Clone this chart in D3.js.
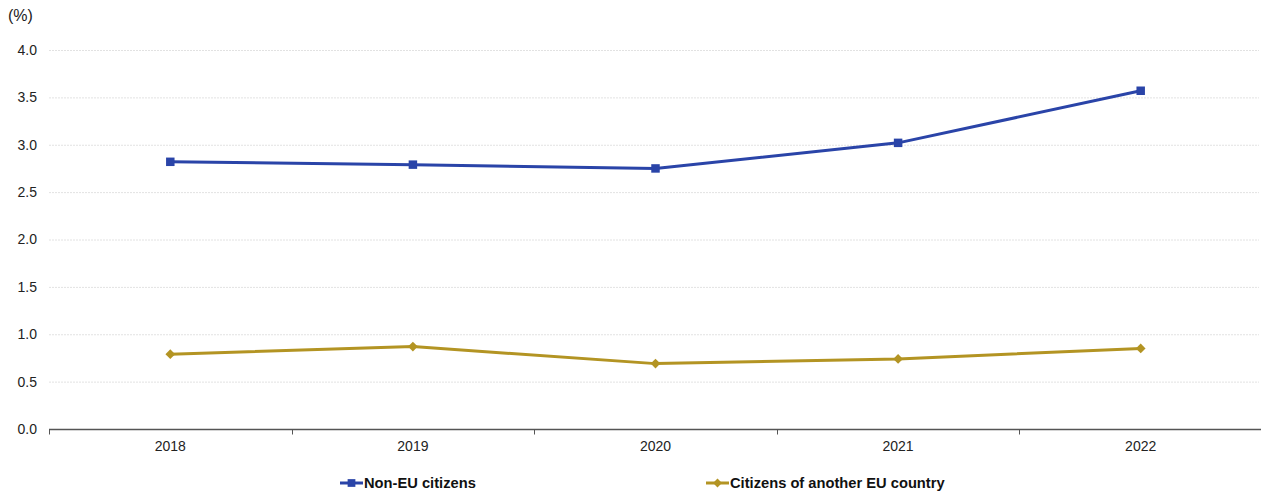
<!DOCTYPE html>
<html>
<head>
<meta charset="utf-8">
<script src="https://cdn.jsdelivr.net/npm/d3@7"></script>
<style>
  html, body { margin: 0; padding: 0; background: #fff; }
  svg { display: block; font-family: "Liberation Sans", Arial, sans-serif; }
</style>
</head>
<body>
<svg id="chart" width="1261" height="493"></svg>
<script>
// Share of population by citizenship, 2018-2022 (%)
const years = ["2018", "2019", "2020", "2021", "2022"];
const nonEU = [2.82, 2.79, 2.75, 3.02, 3.57];
const otherEU = [0.79, 0.87, 0.69, 0.74, 0.85];
const seriesNames = ["Non-EU citizens", "Citizens of another EU country"];
const yTicks = [0, 0.5, 1, 1.5, 2, 2.5, 3, 3.5, 4];

const colors = ["#2A44A8", "#B39423"];
const svg = d3.select("#chart");
const margin = { left: 49 };

const x = d3.scaleBand().domain(years).range([margin.left, 1262]).paddingInner(0).paddingOuter(0);
const y = d3.scaleLinear().domain([0, 4]).range([429, 50]);

// gridlines
svg.append("g")
  .selectAll("line")
  .data(yTicks.filter(d => d > 0))
  .join("line")
  .attr("x1", margin.left).attr("x2", 1259)
  .attr("y1", d => y(d) + 0.5).attr("y2", d => y(d) + 0.5)
  .attr("stroke", "#e2e2e2").attr("stroke-width", 1)
  .attr("stroke-dasharray", "2,1");

// y axis labels
const yAxis = d3.axisLeft(y).tickValues(yTicks).tickFormat(d3.format(".1f")).tickSize(0).tickPadding(12);
const gy = svg.append("g").attr("transform", `translate(${margin.left},0)`).call(yAxis);
gy.select(".domain").remove();
gy.selectAll("text").attr("font-size", 14).attr("fill", "#222").attr("font-family", "Liberation Sans, Arial, sans-serif");

// x axis with tick marks at category boundaries
const gx = svg.append("g").attr("transform", "translate(0,429.5)");
gx.append("line").attr("x1", margin.left).attr("x2", 1261).attr("stroke", "#555").attr("stroke-width", 1.5);
const bounds = years.map(d => x(d)).concat([x(years[years.length - 1]) + x.bandwidth()]);
gx.selectAll("line.tick").data(bounds).join("line")
  .attr("class", "tick")
  .attr("x1", d => Math.round(d) + 0.5).attr("x2", d => Math.round(d) + 0.5)
  .attr("y1", 0).attr("y2", 5)
  .attr("stroke", "#555").attr("stroke-width", 1);
gx.selectAll("text").data(years).join("text")
  .attr("x", d => x(d) + x.bandwidth() / 2)
  .attr("y", 21)
  .attr("text-anchor", "middle")
  .attr("font-size", 14).attr("fill", "#222")
  .text(d => d);

// unit label
svg.append("text").attr("x", 8).attr("y", 21).attr("font-size", 16).attr("fill", "#222").text("(%)");

const cx = d => x(d) + x.bandwidth() / 2;
const line = d3.line().x((d, i) => cx(years[i])).y(d => y(d));

function drawSeries(values, color, shape) {
  svg.append("path").datum(values)
    .attr("d", line).attr("fill", "none")
    .attr("stroke", color).attr("stroke-width", 3).attr("stroke-linejoin", "round");
  svg.append("g").selectAll("path").data(values).join("path")
    .attr("transform", (d, i) => `translate(${cx(years[i])},${y(d)})`)
    .attr("d", d3.symbol().type(shape).size(shape === d3.symbolSquare ? 72 : 60))
    .attr("fill", color);
}
drawSeries(nonEU, colors[0], d3.symbolSquare);
drawSeries(otherEU, colors[1], d3.symbolDiamond2);

// legend
const legendItems = [
  { name: seriesNames[0], color: colors[0], shape: d3.symbolSquare, x: 340 },
  { name: seriesNames[1], color: colors[1], shape: d3.symbolDiamond2, x: 706 }
];
const lg = svg.append("g").attr("transform", "translate(0,483)");
legendItems.forEach(it => {
  lg.append("line").attr("x1", it.x).attr("x2", it.x + 23).attr("y1", 0).attr("y2", 0)
    .attr("stroke", it.color).attr("stroke-width", 3);
  lg.append("path").attr("transform", `translate(${it.x + 11.5},0)`)
    .attr("d", d3.symbol().type(it.shape).size(it.shape === d3.symbolSquare ? 60 : 50))
    .attr("fill", it.color);
  lg.append("text").attr("x", it.x + 24).attr("y", 5)
    .attr("font-size", 14.7).attr("font-weight", "bold").attr("fill", "#111")
    .text(it.name);
});
</script>
</body>
</html>
